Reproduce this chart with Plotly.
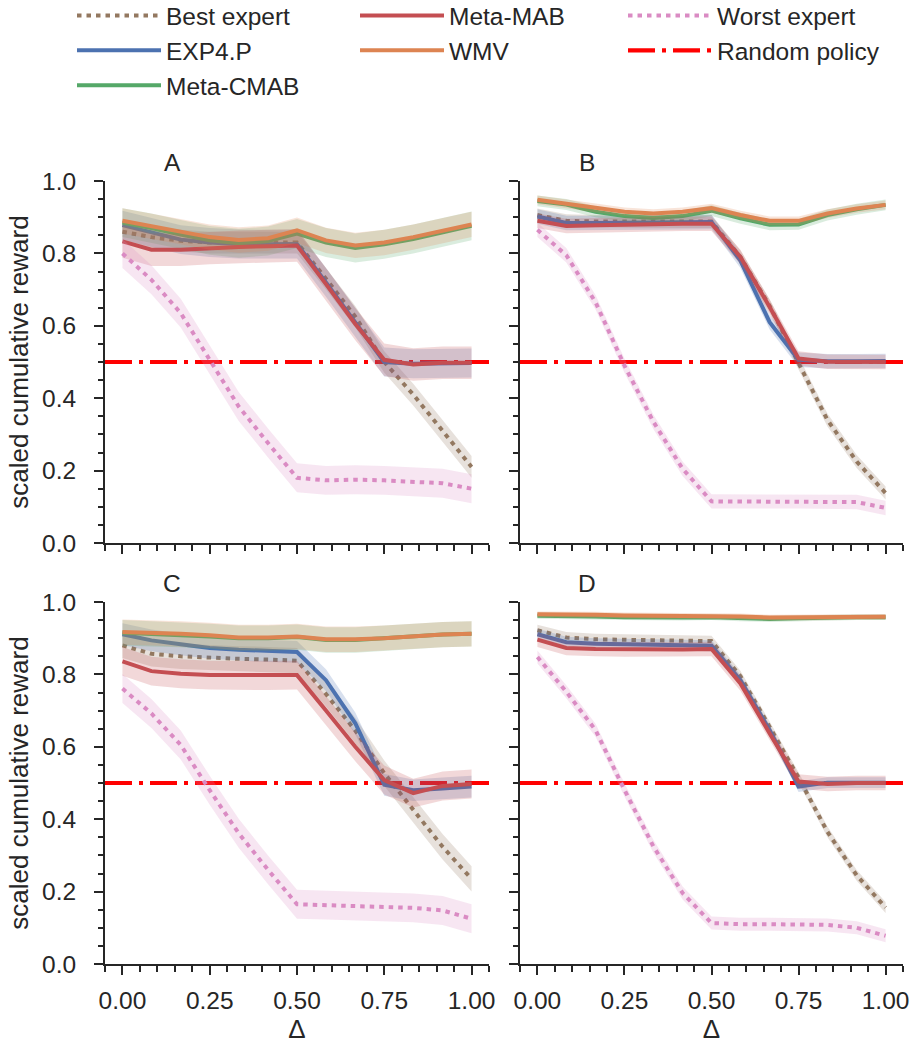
import plotly.graph_objects as go

FONT = "Liberation Sans, Arial, sans-serif"
INK = "#262626"

# ---------------- data ----------------
delta = [0.0, 0.083, 0.167, 0.25, 0.333, 0.417, 0.5, 0.583, 0.667, 0.75, 0.833, 0.917, 1.0]
series_names = ["Best expert", "EXP4.P", "Meta-CMAB", "Meta-MAB", "WMV", "Worst expert"]
panel_names = ["A", "B", "C", "D"]
random_policy_value = 0.5

x_tick_vals = [0.0, 0.25, 0.5, 0.75, 1.0]
x_tick_labels = ["0.00", "0.25", "0.50", "0.75", "1.00"]
y_tick_vals = [0.0, 0.2, 0.4, 0.6, 0.8, 1.0]
y_tick_labels = ["0.0", "0.2", "0.4", "0.6", "0.8", "1.0"]

# Panel A
best_A  = [0.860, 0.845, 0.835, 0.830, 0.830, 0.830, 0.830, 0.730, 0.625, 0.500, 0.410, 0.310, 0.210]
exp4_A  = [0.878, 0.858, 0.838, 0.830, 0.826, 0.825, 0.826, 0.720, 0.610, 0.500, 0.495, 0.497, 0.497]
cmab_A  = [0.885, 0.870, 0.852, 0.836, 0.828, 0.834, 0.855, 0.830, 0.815, 0.825, 0.840, 0.858, 0.876]
mab_A   = [0.833, 0.810, 0.810, 0.815, 0.818, 0.820, 0.822, 0.715, 0.605, 0.506, 0.493, 0.498, 0.498]
wmv_A   = [0.890, 0.875, 0.860, 0.845, 0.837, 0.842, 0.864, 0.836, 0.822, 0.830, 0.845, 0.862, 0.880]
worst_A = [0.800, 0.727, 0.635, 0.506, 0.377, 0.276, 0.180, 0.173, 0.175, 0.173, 0.170, 0.165, 0.150]
band_A  = [0.030, 0.040, 0.040, 0.045, 0.035, 0.040]

# Panel B
best_B  = [0.906, 0.890, 0.888, 0.888, 0.888, 0.888, 0.888, 0.790, 0.655, 0.497, 0.340, 0.225, 0.138]
exp4_B  = [0.902, 0.884, 0.884, 0.885, 0.886, 0.886, 0.887, 0.780, 0.610, 0.506, 0.502, 0.502, 0.503]
cmab_B  = [0.945, 0.935, 0.915, 0.903, 0.898, 0.903, 0.918, 0.897, 0.879, 0.880, 0.906, 0.922, 0.934]
mab_B   = [0.890, 0.876, 0.878, 0.880, 0.881, 0.882, 0.882, 0.790, 0.652, 0.510, 0.501, 0.500, 0.500]
wmv_B   = [0.948, 0.938, 0.926, 0.915, 0.910, 0.915, 0.925, 0.906, 0.890, 0.890, 0.910, 0.924, 0.934]
worst_B = [0.865, 0.795, 0.665, 0.490, 0.335, 0.205, 0.115, 0.115, 0.115, 0.115, 0.115, 0.113, 0.097]
band_B  = [0.018, 0.020, 0.015, 0.020, 0.012, 0.020]

# Panel C
best_C  = [0.880, 0.857, 0.850, 0.846, 0.843, 0.841, 0.838, 0.746, 0.645, 0.527, 0.426, 0.324, 0.235]
exp4_C  = [0.911, 0.894, 0.883, 0.873, 0.868, 0.864, 0.862, 0.784, 0.665, 0.495, 0.480, 0.485, 0.490]
cmab_C  = [0.915, 0.912, 0.910, 0.905, 0.900, 0.900, 0.903, 0.895, 0.895, 0.900, 0.905, 0.910, 0.912]
mab_C   = [0.836, 0.809, 0.802, 0.798, 0.798, 0.797, 0.798, 0.700, 0.600, 0.508, 0.472, 0.492, 0.497]
wmv_C   = [0.917, 0.915, 0.912, 0.908, 0.902, 0.902, 0.905, 0.897, 0.897, 0.900, 0.905, 0.910, 0.912]
worst_C = [0.761, 0.692, 0.605, 0.480, 0.361, 0.260, 0.165, 0.163, 0.160, 0.158, 0.155, 0.148, 0.125]
band_C  = [0.035, 0.030, 0.035, 0.040, 0.035, 0.040]

# Panel D
best_D  = [0.922, 0.902, 0.897, 0.895, 0.894, 0.893, 0.892, 0.795, 0.655, 0.515, 0.365, 0.245, 0.156]
exp4_D  = [0.911, 0.889, 0.885, 0.883, 0.882, 0.881, 0.879, 0.784, 0.646, 0.490, 0.501, 0.501, 0.501]
cmab_D  = [0.962, 0.962, 0.960, 0.958, 0.957, 0.957, 0.958, 0.955, 0.953, 0.955, 0.957, 0.958, 0.958]
mab_D   = [0.896, 0.873, 0.870, 0.869, 0.869, 0.869, 0.870, 0.775, 0.637, 0.504, 0.497, 0.500, 0.500]
wmv_D   = [0.966, 0.966, 0.965, 0.963, 0.962, 0.962, 0.962, 0.960, 0.957, 0.958, 0.959, 0.959, 0.959]
worst_D = [0.848, 0.752, 0.646, 0.481, 0.325, 0.196, 0.113, 0.110, 0.110, 0.110, 0.108, 0.100, 0.078]
band_D  = [0.015, 0.015, 0.008, 0.020, 0.008, 0.018]

panel_values = {
    "A": [best_A, exp4_A, cmab_A, mab_A, wmv_A, worst_A],
    "B": [best_B, exp4_B, cmab_B, mab_B, wmv_B, worst_B],
    "C": [best_C, exp4_C, cmab_C, mab_C, wmv_C, worst_C],
    "D": [best_D, exp4_D, cmab_D, mab_D, wmv_D, worst_D],
}
panel_bands = {"A": band_A, "B": band_B, "C": band_C, "D": band_D}

# ---------------- styles ----------------
colors = {
    "Best expert": (147, 120, 96),
    "EXP4.P": (76, 114, 176),
    "Meta-CMAB": (85, 168, 104),
    "Meta-MAB": (196, 78, 82),
    "WMV": (221, 132, 82),
    "Worst expert": (218, 139, 195),
}
dashes = {
    "Best expert": "4.5px,5px",
    "Worst expert": "4.5px,5px",
}
legend_of = {
    "Best expert": ("legend", 1), "EXP4.P": ("legend", 2), "Meta-CMAB": ("legend", 3),
    "Meta-MAB": ("legend2", 1), "WMV": ("legend2", 2),
    "Worst expert": ("legend3", 1), "Random policy": ("legend3", 2),
}
LW = 4
X_RANGE = [-0.05, 1.05]
Y_RANGE = [0.0, 1.0]

W, H = 913, 1045
def px_x(p): return p / W
def px_y(p): return 1 - p / H

panel_axes = {"A": ("x", "y"), "B": ("x2", "y2"), "C": ("x3", "y3"), "D": ("x4", "y4")}

fig = go.Figure()

for pi, pname in enumerate(panel_names):
    xa, ya = panel_axes[pname]
    # random policy (drawn underneath)
    lg, rank = legend_of["Random policy"]
    fig.add_trace(go.Scatter(
        x=X_RANGE, y=[random_policy_value, random_policy_value], xaxis=xa, yaxis=ya,
        mode="lines", name="Random policy",
        line=dict(color="#FF0000", width=LW + 0.2, dash="27px,7px,4px,7px"),
        legend=lg, legendrank=rank, showlegend=(pi == 0), hoverinfo="skip"))
    for si, sname in enumerate(series_names):
        vals = panel_values[pname][si]
        hw = panel_bands[pname][si]
        r, g, b = colors[sname]
        upper = [v + hw for v in vals]
        lower = [v - hw for v in vals]
        fig.add_trace(go.Scatter(
            x=delta + delta[::-1], y=upper + lower[::-1], xaxis=xa, yaxis=ya,
            fill="toself", fillcolor=f"rgba({r},{g},{b},0.22)", line=dict(width=0),
            mode="lines", showlegend=False, hoverinfo="skip"))
        lg, rank = legend_of[sname]
        fig.add_trace(go.Scatter(
            x=delta, y=vals, xaxis=xa, yaxis=ya, mode="lines", name=sname,
            line=dict(color=f"rgb({r},{g},{b})", width=LW, dash=dashes.get(sname, "solid")),
            legend=lg, legendrank=rank, showlegend=(pi == 0)))

# ---------------- layout ----------------
x_dom = {"L": [px_x(105), px_x(489)], "R": [px_x(520), px_x(903)]}
y_dom = {"T": [px_y(543), px_y(181)], "B": [px_y(964), px_y(602)]}
pos = {"A": ("L", "T"), "B": ("R", "T"), "C": ("L", "B"), "D": ("R", "B")}

tickfont = dict(family=FONT, size=24.5, color=INK)
layout = dict(
    width=W, height=H, margin=dict(l=0, r=0, t=0, b=0, autoexpand=False),
    paper_bgcolor="white", plot_bgcolor="white",
    font=dict(family=FONT, color=INK, size=24.5),
    showlegend=True,
)
for i, pname in enumerate(panel_names):
    n = "" if i == 0 else str(i + 1)
    cx, cy = pos[pname]
    layout["xaxis" + n] = dict(
        domain=x_dom[cx], range=X_RANGE, anchor="y" + n,
        showline=True, linecolor=INK, linewidth=2, mirror=False,
        showgrid=False, zeroline=False,
        ticks="outside", ticklen=9, tickwidth=2, tickcolor=INK,
        tickvals=x_tick_vals, ticktext=x_tick_labels,
        showticklabels=(cy == "B"), tickfont=tickfont, ticklabelstandoff=5,
        minor=dict(tick0=0, dtick=0.05, ticks="outside", ticklen=5.5, tickwidth=2, tickcolor=INK),
        title=dict(text="Δ" if cy == "B" else "", font=dict(family=FONT, size=26, color=INK), standoff=6),
    )
    layout["yaxis" + n] = dict(
        domain=y_dom[cy], range=Y_RANGE, anchor="x" + n,
        showline=True, linecolor=INK, linewidth=2, mirror=False,
        showgrid=False, zeroline=False,
        ticks="outside", ticklen=9, tickwidth=2, tickcolor=INK,
        tickvals=y_tick_vals, ticktext=y_tick_labels,
        showticklabels=(cx == "L"), tickfont=tickfont, ticklabelstandoff=13,
        minor=dict(tick0=0, dtick=0.05, ticks="outside", ticklen=5.5, tickwidth=2, tickcolor=INK),
        title=dict(text="scaled cumulative reward" if cx == "L" else "",
                   font=dict(family=FONT, size=26, color=INK), standoff=6),
    )

legend_common = dict(orientation="v", xanchor="left", yanchor="top", bgcolor="rgba(0,0,0,0)",
                     font=dict(family=FONT, size=24.5, color=INK), itemwidth=84,
                     tracegroupgap=0, traceorder="normal")
layout["legend"] = dict(legend_common, x=px_x(72), y=px_y(-7))
layout["legend2"] = dict(legend_common, x=px_x(355), y=px_y(-7))
layout["legend3"] = dict(legend_common, x=px_x(623), y=px_y(-7))

annotations = []
label_pos = {"A": (172, 163), "B": (587, 163), "C": (172, 583), "D": (587, 583)}
for pname in panel_names:
    lx, ly = label_pos[pname]
    annotations.append(dict(text=pname, x=px_x(lx), y=px_y(ly), xref="paper", yref="paper",
                            showarrow=False, xanchor="center", yanchor="middle",
                            font=dict(family=FONT, size=24.5, color=INK)))
layout["annotations"] = annotations

fig.update_layout(**layout)
fig.write_html("out.html", config={"displayModeBar": False},
               post_script="document.body.style.margin='0';")
